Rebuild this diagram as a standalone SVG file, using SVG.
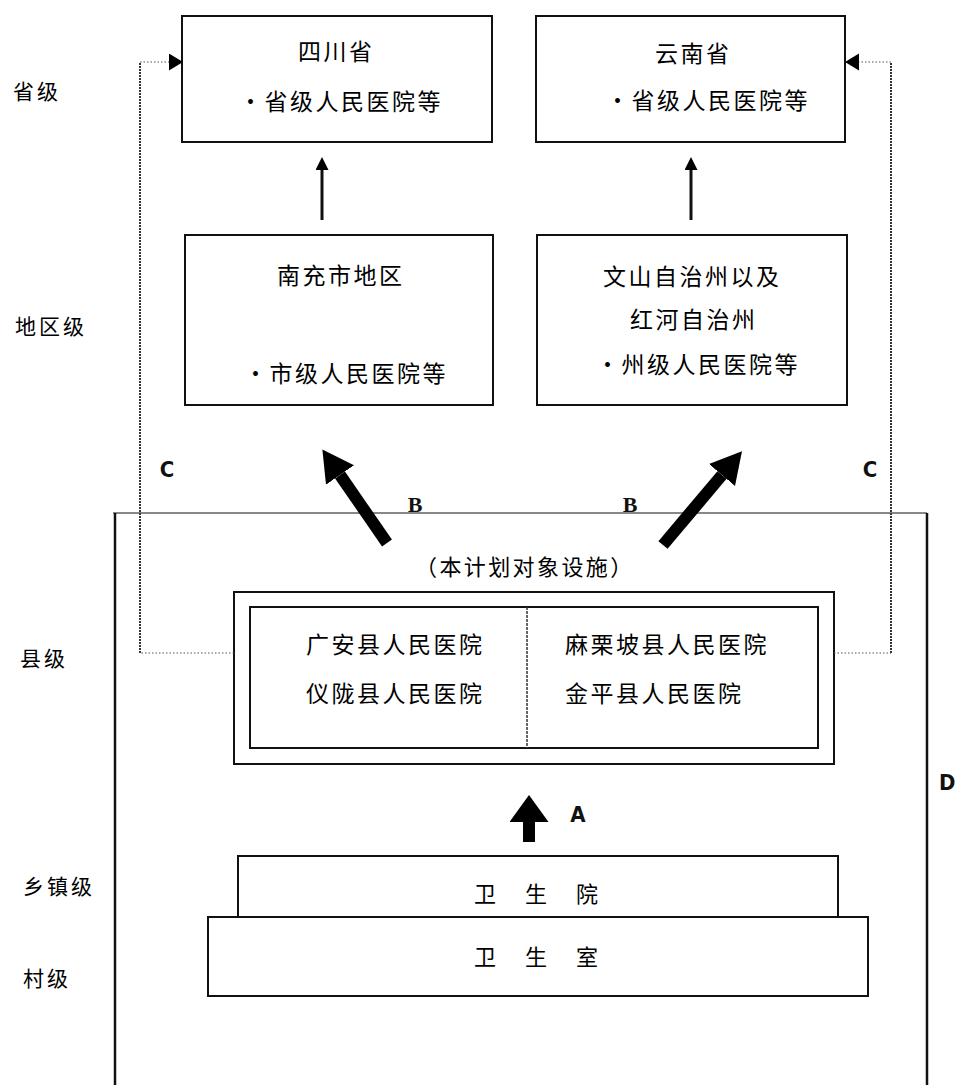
<svg xmlns="http://www.w3.org/2000/svg" width="955" height="1085" viewBox="0 0 955 1085">
<style>
.bg{fill:#fff}
.box{fill:none;stroke:#111;stroke-width:2}
.t{font-family:"Noto Sans CJK SC","Noto Sans CJK JP",sans-serif;font-size:23px;letter-spacing:2.5px;fill:#000;dominant-baseline:central}
.lv{font-family:"Noto Sans CJK SC","Noto Sans CJK JP",sans-serif;font-size:21px;letter-spacing:3px;fill:#000;dominant-baseline:central}
.lb{font-family:"Liberation Serif",serif;font-weight:bold;font-size:22px;fill:#111}
.lc{font-family:"DejaVu Sans Condensed","DejaVu Sans",sans-serif;font-weight:bold;font-size:22px;fill:#111}
.dotv{fill:none;stroke:#333;stroke-width:2;stroke-dasharray:2 1}
.doth{fill:none;stroke:#555;stroke-width:1.2;stroke-dasharray:1.5 2}
.thin{fill:none;stroke:#111;stroke-width:3}
.fat{fill:none;stroke:#000;stroke-width:12}
.frame{fill:none;stroke:#111}
</style>
<defs>
<marker id="mBig" markerUnits="userSpaceOnUse" markerWidth="32" markerHeight="36" refX="0" refY="17" orient="auto" viewBox="0 0 32 36"><path d="M0,0 L31,17 L0,34 z" fill="#000"/></marker>
<marker id="mA" markerUnits="userSpaceOnUse" markerWidth="28" markerHeight="40" refX="0" refY="19.5" orient="auto" viewBox="0 0 28 40"><path d="M0,0 L27,19.5 L0,39 z" fill="#000"/></marker>
<marker id="mSmall" markerUnits="userSpaceOnUse" markerWidth="14" markerHeight="14" refX="0" refY="6.5" orient="auto" viewBox="0 0 14 14"><path d="M0,0 L13,6.5 L0,13 z" fill="#000"/></marker>
<marker id="mTri" markerUnits="userSpaceOnUse" markerWidth="14" markerHeight="18" refX="0" refY="8.5" orient="auto" viewBox="0 0 14 18"><path d="M0,0 L14,8.5 L0,17 z" fill="#000"/></marker>
</defs>
<rect class="bg" x="0" y="0" width="955" height="1085"/>

<g id="levels">
<text class="lv" x="13" y="90">省级</text>
<text class="lv" x="15" y="325">地区级</text>
<text class="lv" x="20" y="657">县级</text>
<text class="lv" x="23" y="885">乡镇级</text>
<text class="lv" x="23" y="977">村级</text>
</g>

<g id="frame-D">
<path d="M113,513 H927" class="frame" stroke-width="1"/>
<path d="M115,513 V1085" class="frame" stroke-width="2.5"/>
<path d="M927,513 V1085" class="frame" stroke-width="2.5"/>
<text class="lc" x="939" y="790">D</text>
</g>

<g id="node-sichuan">
<rect class="box" x="182" y="16" width="310" height="126"/>
<text class="t" x="298" y="50">四川省</text>
<text class="t" x="239" y="100">・省级人民医院等</text>
</g>

<g id="node-yunnan">
<rect class="box" x="536" y="16" width="309" height="126"/>
<text class="t" x="655" y="52">云南省</text>
<text class="t" x="606" y="99">・省级人民医院等</text>
</g>

<g id="node-nanchong">
<rect class="box" x="185" y="235" width="308" height="170"/>
<text class="t" x="277" y="274">南充市地区</text>
<text class="t" x="244" y="372">・市级人民医院等</text>
</g>

<g id="node-wenshan">
<rect class="box" x="537" y="235" width="310" height="170"/>
<text class="t" x="603" y="275">文山自治州以及</text>
<text class="t" x="630" y="318">红河自治州</text>
<text class="t" x="596" y="363">・州级人民医院等</text>
</g>

<g id="node-county">
<text class="t" x="415" y="565" style="font-size:22px;letter-spacing:2.4px">（本计划对象设施）</text>
<rect class="box" x="234" y="592" width="600" height="172"/>
<rect class="box" x="250" y="607" width="568" height="141"/>
<line x1="527" y1="607" x2="527" y2="748" stroke="#333" stroke-width="1.5" stroke-dasharray="3 1"/>
<text class="t" x="306" y="643">广安县人民医院</text>
<text class="t" x="306" y="692">仪陇县人民医院</text>
<text class="t" x="565" y="643">麻栗坡县人民医院</text>
<text class="t" x="565" y="692">金平县人民医院</text>
</g>

<g id="node-township">
<rect x="238" y="856" width="600" height="62" fill="#fff" stroke="#111" stroke-width="2"/>
<text class="t" x="474" y="892" style="font-size:22px;letter-spacing:29px">卫生院</text>
</g>

<g id="node-village">
<rect x="208" y="917" width="660" height="79" fill="#fff" stroke="#111" stroke-width="2"/>
<text class="t" x="474" y="955" style="font-size:22px;letter-spacing:29px">卫生室</text>
</g>

<g id="connectors">
<path class="thin" d="M322,220 V170" marker-end="url(#mSmall)"/>
<path class="thin" d="M691,220 V170" marker-end="url(#mSmall)"/>
<path class="fat" d="M387,543 L340,475" marker-end="url(#mBig)"/>
<path class="fat" d="M663,545 L722,475" marker-end="url(#mBig)"/>
<path class="fat" d="M529,842 V822" marker-end="url(#mA)"/>
<path class="doth" d="M234,653 H140"/>
<path class="dotv" d="M140,653 V62"/>
<path class="doth" d="M140,62 H169" marker-end="url(#mTri)"/>
<path class="doth" d="M834,653 H891"/>
<path class="dotv" d="M891,653 V62"/>
<path class="doth" d="M891,62 H859" marker-end="url(#mTri)"/>
<text class="lb" x="415" y="512" text-anchor="middle">B</text>
<text class="lb" x="630" y="512" text-anchor="middle">B</text>
<text class="lc" x="167" y="477" text-anchor="middle">C</text>
<text class="lc" x="870" y="477" text-anchor="middle">C</text>
<text class="lc" x="578" y="822" text-anchor="middle">A</text>
</g>
</svg>
